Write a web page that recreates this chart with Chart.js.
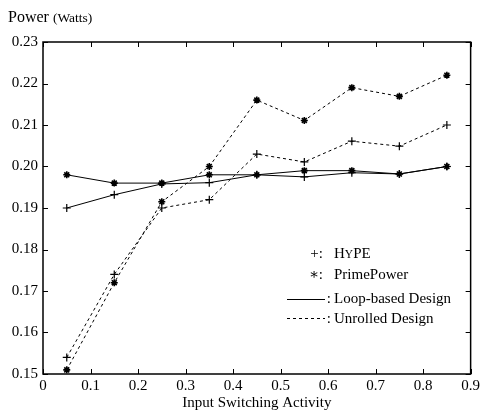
<!DOCTYPE html>
<html>
<head>
<meta charset="utf-8">
<script src="https://cdn.jsdelivr.net/npm/chart.js@4"></script>
<style>
  body{margin:0;background:#fff;}
  canvas{display:block;}
</style>
</head>
<body>
<canvas id="chart" width="483" height="410"></canvas>
<script>
const activity = [0.05, 0.15, 0.25, 0.35, 0.45, 0.55, 0.65, 0.75, 0.85];

const hypeLoop      = [0.190, 0.1932, 0.1958, 0.1961, 0.198, 0.1975, 0.1985, 0.1982, 0.200];
const primeLoop     = [0.198, 0.196, 0.196, 0.198, 0.198, 0.199, 0.199, 0.1982, 0.200];
const hypeUnrolled  = [0.154, 0.174, 0.190, 0.192, 0.203, 0.2011, 0.2061, 0.2049, 0.210];
const primeUnrolled = [0.151, 0.172, 0.1915, 0.200, 0.216, 0.2111, 0.219, 0.2169, 0.222];

const xTicks = [0, 0.1, 0.2, 0.3, 0.4, 0.5, 0.6, 0.7, 0.8, 0.9];
const yTicks = [0.15, 0.16, 0.17, 0.18, 0.19, 0.20, 0.21, 0.22, 0.23];

const SERIF = "'Liberation Serif', 'DejaVu Serif', serif";

function pts(ys){
  return activity.map((x,i)=>({x:x, y:ys[i]}));
}

function series(ys, marker, dashed){
  return {
    data: pts(ys),
    borderColor: '#000',
    backgroundColor: '#000',
    borderWidth: 1,
    borderDash: dashed ? [3,3] : [],
    pointStyle: marker,
    pointRadius: marker === 'star' ? 3.5 : 4,
    pointBorderWidth: marker === 'star' ? 1.6 : 1.2,
    pointBorderColor: '#000',
    tension: 0
  };
}

// frame, inward ticks, y-axis title and the in-plot legend
const decor = {
  id: 'decor',
  afterDraw(c){
    const ctx = c.ctx;
    const a = c.chartArea;
    const xs = c.scales.x, ys = c.scales.y;
    ctx.save();
    ctx.strokeStyle = '#000';
    ctx.lineWidth = 1.5;
    ctx.strokeRect(a.left, a.top, a.right - a.left, a.bottom - a.top);

    ctx.lineWidth = 1;
    ctx.beginPath();
    xTicks.forEach(v=>{
      const px = Math.round(xs.getPixelForValue(v)) + 0.5;
      ctx.moveTo(px, a.bottom); ctx.lineTo(px, a.bottom - 5);
      ctx.moveTo(px, a.top); ctx.lineTo(px, a.top + 5);
    });
    yTicks.forEach(v=>{
      const py = Math.round(ys.getPixelForValue(v)) + 0.5;
      ctx.moveTo(a.left, py); ctx.lineTo(a.left + 5, py);
      ctx.moveTo(a.right, py); ctx.lineTo(a.right - 5, py);
    });
    ctx.stroke();

    // y title
    ctx.fillStyle = '#000';
    ctx.textBaseline = 'alphabetic';
    ctx.textAlign = 'left';
    ctx.font = '16px ' + SERIF;
    ctx.fillText('Power', 8, 22);
    let w = ctx.measureText('Power ').width;
    ctx.font = '13.5px ' + SERIF;
    ctx.fillText('(Watts)', 8 + w, 22);

    // legend
    ctx.font = '15px ' + SERIF;
    ctx.textBaseline = 'middle';
    const tx = 334;
    ctx.textAlign = 'right';
    ctx.fillText('+:', 323, 254);
    ctx.fillText('\u2217:', 323, 275);
    ctx.fillText(':', 331, 299);
    ctx.fillText(':', 331, 319);
    ctx.textAlign = 'left';
    ctx.fillText('H', tx, 254);
    let hw = ctx.measureText('H').width;
    ctx.font = '11.5px ' + SERIF;
    ctx.fillText('Y', tx + hw, 255);
    let yw = ctx.measureText('Y').width;
    ctx.font = '15px ' + SERIF;
    ctx.fillText('PE', tx + hw + yw, 254);
    ctx.fillText('PrimePower', tx, 275);
    ctx.fillText('Loop-based Design', tx, 299);
    ctx.fillText('Unrolled Design', tx, 319);

    ctx.lineWidth = 1;
    ctx.beginPath();
    ctx.moveTo(287, 299.5); ctx.lineTo(325, 299.5);
    ctx.stroke();
    ctx.setLineDash([3,3]);
    ctx.beginPath();
    ctx.moveTo(287, 318.5); ctx.lineTo(325, 318.5);
    ctx.stroke();
    ctx.restore();
  }
};

new Chart(document.getElementById('chart').getContext('2d'), {
  type: 'line',
  data: {
    datasets: [
      series(hypeLoop, 'cross', false),
      series(primeLoop, 'star', false),
      series(hypeUnrolled, 'cross', true),
      series(primeUnrolled, 'star', true)
    ]
  },
  options: {
    responsive: false,
    animation: false,
    clip: false,
    layout: {padding: {top: 42, right: 12, left: 0, bottom: 0}},
    plugins: {legend: {display: false}, tooltip: {enabled: false}},
    scales: {
      x: {
        type: 'linear',
        min: 0, max: 0.9,
        afterBuildTicks: s => { s.ticks = xTicks.map(v=>({value:v})); },
        afterFit: s => { s.height = 36; },
        grid: {display: false, drawTicks: false},
        border: {display: false},
        ticks: {
          color: '#000',
          padding: 3,
          maxRotation: 0,
          font: {family: SERIF, size: 15},
          callback: v => String(Number(v.toFixed(2)))
        },
        title: {
          display: true,
          text: 'Input Switching Activity',
          color: '#000',
          padding: {top: 0, bottom: -2},
          font: {family: SERIF, size: 15}
        }
      },
      y: {
        type: 'linear',
        min: 0.15, max: 0.23,
        afterBuildTicks: s => { s.ticks = yTicks.map(v=>({value:v})); },
        afterFit: s => { s.width = 43; },
        grid: {display: false, drawTicks: false},
        border: {display: false},
        ticks: {
          color: '#000',
          padding: 5,
          font: {family: SERIF, size: 15},
          callback: v => v.toFixed(2)
        }
      }
    }
  },
  plugins: [decor]
});
</script>
</body>
</html>
